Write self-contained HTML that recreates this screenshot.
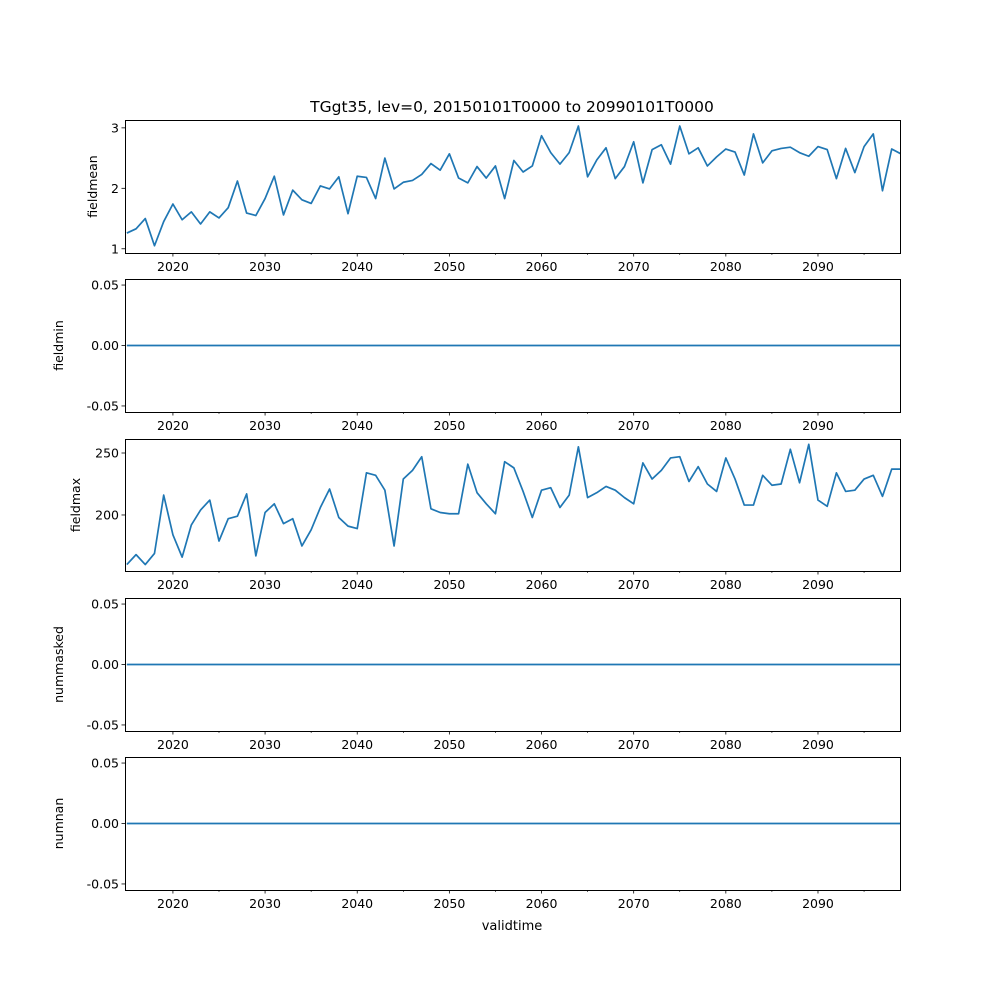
<!DOCTYPE html>
<html><head><meta charset="utf-8"><style>
html,body{margin:0;padding:0;background:#fff}
svg{display:block;font-family:"DejaVu Sans","Liberation Sans",sans-serif}
</style></head><body>
<svg id="fig" width="1000" height="1000" viewBox="0 0 1000 1000">
<text x="512" y="112" text-anchor="middle" font-size="15.5" fill="#000">TGgt35, lev=0, 20150101T0000 to 20990101T0000</text>
<text x="512" y="930" text-anchor="middle" font-size="13" fill="#000">validtime</text>
</svg>
<script>
const years = [];
for (let y = 2015; y <= 2099; y++) years.push(y);
const fieldmean = [1.26,1.33,1.5,1.05,1.45,1.74,1.48,1.61,1.41,1.61,1.51,1.68,2.12,1.59,1.55,1.83,2.2,1.56,1.97,1.81,1.75,2.04,1.99,2.19,1.58,2.2,2.18,1.83,2.5,1.99,2.1,2.13,2.23,2.41,2.3,2.57,2.17,2.09,2.36,2.17,2.37,1.83,2.46,2.27,2.37,2.87,2.59,2.4,2.59,3.03,2.19,2.47,2.67,2.16,2.36,2.77,2.09,2.64,2.72,2.4,3.03,2.57,2.67,2.37,2.52,2.65,2.6,2.22,2.9,2.42,2.62,2.66,2.68,2.59,2.53,2.69,2.64,2.16,2.66,2.26,2.69,2.9,1.96,2.65,2.57];
const fieldmin = years.map(() => 0);
const fieldmax = [160,168,160,169,216,184,166,192,204,212,179,197,199,217,167,202,209,193,197,175,188,206,221,198,191,189,234,232,220,175,229,236,247,205,202,201,201,241,218,209,201,243,238,219,198,220,222,206,216,255,214,218,223,220,214,209,242,229,236,246,247,227,239,225,219,246,229,208,208,232,224,225,253,226,257,212,207,234,219,220,229,232,215,237,237];
const nummasked = years.map(() => 0);
const numnan = years.map(() => 0);
const xTicks = [2020,2030,2040,2050,2060,2070,2080,2090];
const xMinor = [2025,2035,2045,2055,2065,2075,2085,2095];
const flatTicks = [0.05,0.00,-0.05];

const NS = "http://www.w3.org/2000/svg";
const svg = document.getElementById('fig');
const L = 125, R = 900;
const X0 = 2014.8, X1 = 2098.9;
const xs = v => L + (v - X0) / (X1 - X0) * (R - L);
function mk(tag, attrs, parent) {
  const e = document.createElementNS(NS, tag);
  for (const k in attrs) e.setAttribute(k, attrs[k]);
  (parent || svg).appendChild(e);
  return e;
}
const panels = [
  {name:'fieldmean', data:fieldmean, top:120, bot:253, ymin:0.93, ymax:3.13, ticks:[1,2,3], fmt:v=>String(v)},
  {name:'fieldmin', data:fieldmin, top:279, bot:412, ymin:-0.055, ymax:0.055, ticks:flatTicks, fmt:v=>v.toFixed(2)},
  {name:'fieldmax', data:fieldmax, top:439, bot:571, ymin:154.8, ymax:261.3, ticks:[200,250], fmt:v=>String(v)},
  {name:'nummasked', data:nummasked, top:598, bot:731, ymin:-0.055, ymax:0.055, ticks:flatTicks, fmt:v=>v.toFixed(2)},
  {name:'numnan', data:numnan, top:757, bot:890, ymin:-0.055, ymax:0.055, ticks:flatTicks, fmt:v=>v.toFixed(2)}
];
panels.forEach(p => {
  const g = mk('g', {});
  
  
  const ys = v => p.bot - (v - p.ymin) / (p.ymax - p.ymin) * (p.bot - p.top);
  const clipId = 'clip-' + p.name;
  const cp = mk('clipPath', {id: clipId}, g);
  mk('rect', {x:L, y:p.top, width:R-L, height:p.bot-p.top}, cp);
  const pts = p.data.map((v,i) => xs(years[i]).toFixed(2) + ',' + ys(v).toFixed(2)).join(' ');
  const line = mk('polyline', {points:pts, fill:'none', stroke:'#1f77b4', 'stroke-width':1.7, 'stroke-linejoin':'round', 'clip-path':'url(#'+clipId+')'}, g);
  
  
  const frame = mk('rect', {x:L+0.5, y:p.top+0.5, width:R-L, height:p.bot-p.top, fill:'none', stroke:'#000', 'stroke-width':1}, g);
  
  
  xTicks.forEach(t => {
    const x = xs(t);
    mk('line', {x1:x, x2:x, y1:p.bot, y2:p.bot+3.5, stroke:'#000', 'stroke-width':0.8}, g);
    const tx = mk('text', {x:x, y:p.bot+18, 'text-anchor':'middle', 'font-size':12.5, fill:'#000'}, g);
    tx.textContent = t;
    
    
  });
  xMinor.forEach(t => {
    const x = xs(t);
    if (x < L || x > R) return;
    mk('line', {x1:x, x2:x, y1:p.bot, y2:p.bot+2, stroke:'#000', 'stroke-width':0.6}, g);
  });
  p.ticks.forEach(t => {
    const y = ys(t);
    mk('line', {x1:L-3.5, x2:L, y1:y, y2:y, stroke:'#000', 'stroke-width':0.8}, g);
    const tx = mk('text', {x:L-6, y:y+4.5, 'text-anchor':'end', 'font-size':12.5, fill:'#000'}, g);
    tx.textContent = p.fmt(t);
    
    
  });
  const labX = p.ticks.length === 3 && p.name !== 'fieldmean' ? 63 : (p.name === 'fieldmean' ? 97 : 80);
  const cy = (p.top + p.bot) / 2;
  const yl = mk('text', {x:labX, y:cy, 'text-anchor':'middle', 'font-size':12.5, fill:'#000', transform:'rotate(-90 '+labX+' '+cy+')'}, g);
  yl.textContent = p.name;
  
  
});
</script>
</body></html>
